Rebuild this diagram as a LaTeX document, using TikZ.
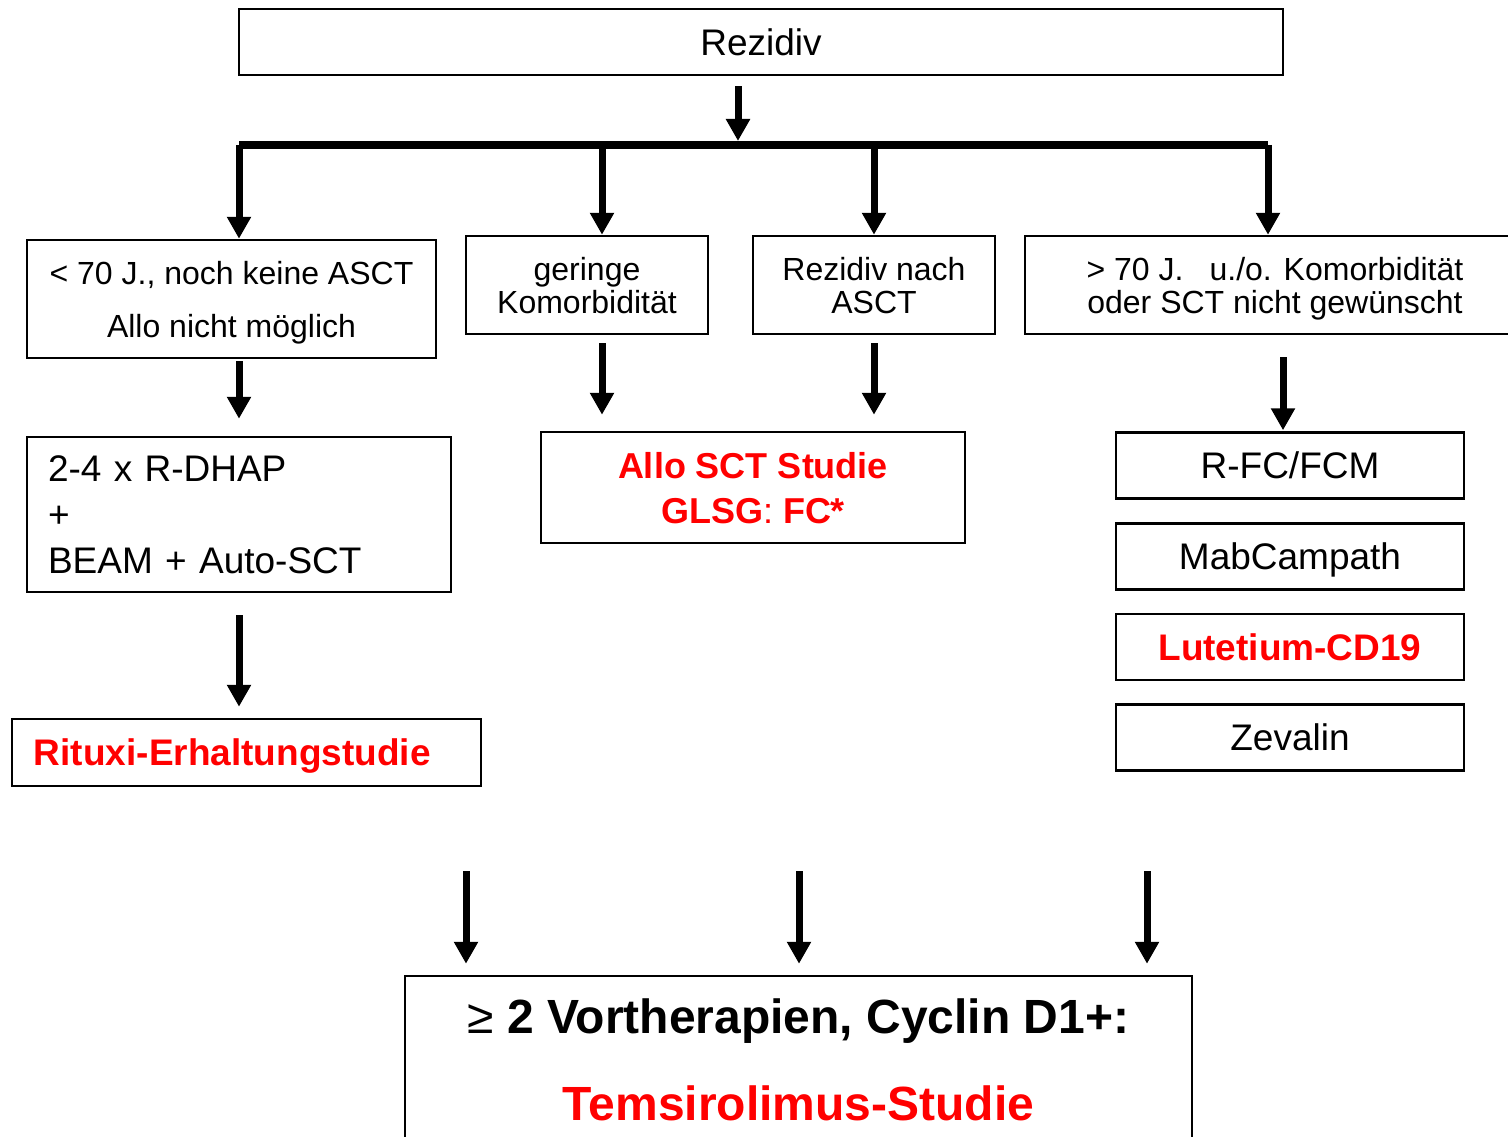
\documentclass[tikz,border=0pt]{standalone}
\usepackage{fontspec}
\setmainfont{Liberation Sans}
\usetikzlibrary{arrows.meta}
\definecolor{studyred}{RGB}{255,0,0}
\begin{document}
\begin{tikzpicture}[x=1pt,y=-1pt,
  box/.style={draw, line width=2.5pt, inner sep=0pt, align=center},
  small/.style={font=\fontsize{32}{33}\selectfont, text depth=0pt},
  big/.style={font=\fontsize{37}{45}\selectfont},
  study/.style={text=studyred, font=\bfseries\fontsize{37}{45}\selectfont},
  oneline/.style={text height=26.5pt, text depth=0pt},
  flow/.style={line width=7pt, -{Triangle[width=23pt,length=22pt]}},
]
\useasboundingbox (0,0) rectangle (1508,1137);

% top level
\node[box, big, oneline, minimum width=1044, minimum height=66] (rez) at (761,42) {Rezidiv};

% branching bar
\coordinate (bar0) at (239,145);
\coordinate (barB) at (602,145);
\coordinate (barC) at (874,145);
\coordinate (bar1) at (1268,145);
\coordinate (barT) at (738,145);
\draw[line width=8pt] (bar0) -- (bar1);

% patient groups
\node[box, small, font=\fontsize{32}{53}\selectfont, minimum width=409, minimum height=118] (grpA) at (231.5,299)
  {< 70 J., noch keine ASCT\\Allo nicht möglich};
\node[box, small, minimum width=242, minimum height=98] (grpB) at (587,285)
  {geringe\\Komorbidität};
\node[box, small, minimum width=242, minimum height=98] (grpC) at (874,285)
  {Rezidiv nach\\ASCT};
\node[box, small, text depth=-3pt, minimum width=500, minimum height=98] (grpD) at (1275,285)
  {> 70 J.\hspace{26pt}u./o. Komorbidität\\oder SCT nicht gewünscht};

% therapies
\node[box, big, font=\fontsize{37}{46}\selectfont, align=left, text width=382, inner xsep=21pt,
      minimum height=155] (dhap) at (239,514.5)
  {2-4 x R-DHAP\\+\\BEAM + Auto-SCT};
\node[box, study, text depth=0pt, font=\bfseries\fontsize{36}{45}\selectfont, minimum width=424, minimum height=111] (allo) at (753,487.5)
  {Allo SCT Studie\\GLSG{\mdseries:} FC*};
\node[box, big, oneline, minimum width=348, minimum height=66] (rfc) at (1290,465.5) {R-FC/FCM};
\node[box, big, oneline, minimum width=348, minimum height=66] (mab) at (1290,556.5) {MabCampath};
\node[box, study, oneline, minimum width=348, minimum height=66] (lut) at (1290,647) {Lutetium-CD19};
\node[box, big, oneline, minimum width=348, minimum height=66] (zev) at (1290,737.5) {Zevalin};
\node[box, study, oneline, align=left, text width=425, inner xsep=22pt, minimum height=67] (ritux) at (246.5,752.5)
  {Rituxi-Erhaltungstudie};

% later lines
\node[box, align=center, font=\fontsize{48}{87}\selectfont, text depth=0pt, minimum width=787, minimum height=166.6]
  (temsi) at (798.5,1059.3)
  {≥ \textbf{2 Vortherapien, Cyclin D1+:}\\\textcolor{studyred}{\textbf{Temsirolimus-Studie}}};

% connectors
\draw[flow, shorten <=10pt, shorten >=4pt] (rez.south -| barT) -- (barT);
\draw[flow] (bar0) -- (bar0 |- grpA.north);
\draw[flow] (barB) -- (barB |- grpB.north);
\draw[flow] (barC) -- (barC |- grpC.north);
\draw[flow] (bar1) -- (bar1 |- grpD.north);

\coordinate (colD) at (1283,0);
\draw[flow, shorten <=2pt, shorten >=17pt] (grpA.south -| bar0) -- (dhap.north -| bar0);
\draw[flow, shorten <=8pt, shorten >=16pt] (grpB.south -| barB) -- (allo.north -| barB);
\draw[flow, shorten <=8pt, shorten >=16pt] (grpC.south -| barC) -- (allo.north -| barC);
\draw[flow, shorten <=22pt, shorten >=1pt] (grpD.south -| colD) -- (rfc.north -| colD);
\draw[flow, shorten <=22pt, shorten >=11pt] (dhap.south -| bar0) -- (ritux.north -| bar0);

\coordinate (s1) at (466,871);
\coordinate (s2) at (799,871);
\coordinate (s3) at (1147,871);
\draw[flow, shorten >=11pt] (s1) -- (temsi.north -| s1);
\draw[flow, shorten >=11pt] (s2) -- (temsi.north -| s2);
\draw[flow, shorten >=11pt] (s3) -- (temsi.north -| s3);
\end{tikzpicture}
\end{document}
